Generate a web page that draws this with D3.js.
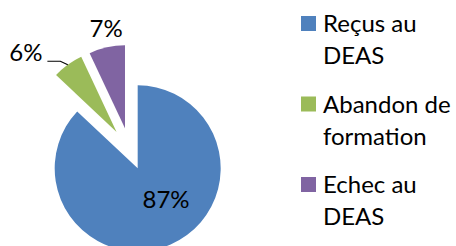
<!DOCTYPE html>
<html>
<head>
<meta charset="utf-8">
<script src="https://cdn.jsdelivr.net/npm/d3@7"></script>
<style>
  html, body { margin: 0; padding: 0; background: #fff; }
  svg { display: block; font-family: Lato, "Open Sans", sans-serif; }
</style>
</head>
<body>
<svg id="chart" width="456" height="246"></svg>
<script>
// --- data ---
var categories = ["Reçus au DEAS", "Abandon de formation", "Echec au DEAS"];
var legendLines = [["Reçus au", "DEAS"], ["Abandon de", "formation"], ["Echec au", "DEAS"]];
var values = [87, 6, 7];
var labels = ["87%", "6%", "7%"];

// --- style / layout ---
var colors = ["#4F81BD", "#9BBB59", "#8064A2"];
var explode = [19.6, 22.7, 22.6];       // px pushed out along the slice mid-angle
var center = [129.9, 150.3];
var radius = 83;
var fontSize = 24;
// label placement relative to each slice's apex: distance and angle (deg, clockwise from top)
var labelPos = [{ r: 41.8, a: 137.3 }, { r: 120.7, a: 311.3 }, { r: 102, a: 349.3 }];

var svg = d3.select("#chart");

var pie = d3.pie().sort(null).value(d => d);
var arcs = pie(values);
var arc = d3.arc().innerRadius(0).outerRadius(radius);

function polar(r, a) { return [Math.sin(a) * r, -Math.cos(a) * r]; }

var g = svg.append("g").attr("transform", "translate(" + center + ")");

arcs.forEach(function (d, i) {
    var mid = (d.startAngle + d.endAngle) / 2;
    d.apex = polar(explode[i], mid);
    d.mid = mid;
});

g.selectAll("path.slice")
    .data(arcs)
    .enter()
    .append("path")
    .attr("class", "slice")
    .attr("d", arc)
    .attr("fill", (d, i) => colors[i])
    .attr("transform", d => "translate(" + d.apex + ")");

// data labels
arcs.forEach(function (d, i) {
    var p = polar(labelPos[i].r, labelPos[i].a * Math.PI / 180);
    d.label = [d.apex[0] + p[0], d.apex[1] + p[1]];
});

g.selectAll("text.lbl")
    .data(arcs)
    .enter()
    .append("text")
    .attr("class", "lbl")
    .attr("x", d => d.label[0])
    .attr("y", d => d.label[1])
    .attr("dy", "0.36em")
    .attr("text-anchor", "middle")
    .style("font-size", fontSize + "px")
    .attr("fill", "#000")
    .text((d, i) => labels[i]);

// leader line for the small green slice
var s = arcs[1];
var onArc = polar(radius, s.mid);
var start = [s.apex[0] + onArc[0], s.apex[1] + onArc[1]];
var end = [s.label[0] + 21.5, s.label[1] + 9];
var elbow = [end[0] + 13, end[1]];
g.append("path")
    .attr("d", d3.line()([start, elbow, end]))
    .attr("fill", "none")
    .attr("stroke", "#000")
    .attr("stroke-width", 1.2);

// --- legend ---
var legend = svg.append("g").attr("transform", "translate(301,16)");
var rows = legend.selectAll("g.row")
    .data(categories)
    .enter()
    .append("g")
    .attr("class", "row")
    .attr("transform", (d, i) => "translate(0," + (i * 80.5) + ")");

rows.append("rect")
    .attr("width", 15)
    .attr("height", 15)
    .attr("fill", (d, i) => colors[i]);

rows.append("text")
    .attr("x", 22)
    .attr("y", 16)
    .style("font-size", fontSize + "px")
    .attr("fill", "#000")
    .selectAll("tspan")
    .data((d, i) => legendLines[i])
    .enter()
    .append("tspan")
    .attr("x", 22)
    .attr("dy", (d, j) => j === 0 ? 0 : 32)
    .text(d => d);
</script>
</body>
</html>
